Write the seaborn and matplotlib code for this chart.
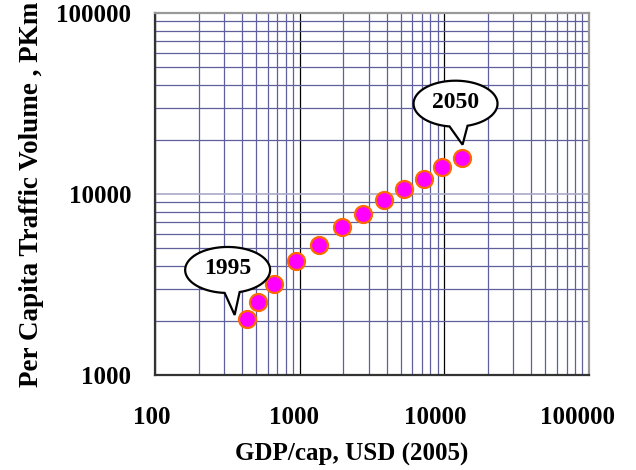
import numpy as np
import pandas as pd
import matplotlib
matplotlib.use("Agg")
import matplotlib.pyplot as plt
from matplotlib.path import Path
from matplotlib.patches import PathPatch
from matplotlib.transforms import Affine2D, ScaledTranslation
from matplotlib.ticker import LogLocator, NullFormatter, FixedLocator
import seaborn as sns

# Per-capita GDP vs. per-capita passenger traffic, 1995-2050 in 5-year steps
years = [1995, 2000, 2005, 2010, 2015, 2020, 2025, 2030, 2035, 2040, 2045, 2050]
gdp_per_cap = [430, 516, 669, 938, 1359, 1959, 2750, 3857, 5272, 7196, 9576, 13150]
traffic_pkm = [2040, 2520, 3170, 4250, 5230, 6570, 7780, 9230, 10660, 12100, 14040, 15870]

x_ticks = [100, 1000, 10000, 100000]
y_ticks = [1000, 10000, 100000]

df = pd.DataFrame({"year": years, "gdp": gdp_per_cap, "pkm": traffic_pkm})

sns.set_theme(style="white")
plt.rcParams["font.family"] = ["Liberation Serif", "DejaVu Serif"]
plt.rcParams["font.weight"] = "bold"
plt.rcParams["text.color"] = "black"
plt.rcParams["axes.labelcolor"] = "black"

fig = plt.figure(figsize=(6.36, 4.70), dpi=100)
ax = fig.add_axes([155 / 636, 95 / 470, 434 / 636, 362 / 470])

ax.set_xscale("log")
ax.set_yscale("log")
ax.set_xlim(x_ticks[0], x_ticks[-1])
ax.set_ylim(y_ticks[0], y_ticks[-1])

# Grid: minor lines in slate blue, major verticals black, major horizontals pale
ax.xaxis.set_minor_locator(LogLocator(base=10, subs=np.arange(2, 10)))
ax.yaxis.set_minor_locator(LogLocator(base=10, subs=np.arange(2, 10)))
ax.xaxis.set_minor_formatter(NullFormatter())
ax.yaxis.set_minor_formatter(NullFormatter())
ax.grid(True, which="minor", color="#5f5f9c", linewidth=0.9)
ax.grid(True, which="major", axis="x", color="black", linewidth=0.9)
ax.grid(True, which="major", axis="y", color="#a9a9c8", linewidth=1.2)
ax.set_axisbelow(True)

ax.xaxis.set_major_locator(FixedLocator(x_ticks))
ax.yaxis.set_major_locator(FixedLocator(y_ticks))
ax.set_xticks(x_ticks, [str(v) for v in x_ticks])
ax.set_yticks(y_ticks, [str(v) for v in y_ticks])
ax.tick_params(axis="both", which="major", direction="out", length=8, width=1,
               color="#555555", labelsize=18, labelcolor="black")
ax.tick_params(axis="x", which="major", pad=14)
ax.tick_params(axis="y", which="major", pad=9)
ax.tick_params(axis="both", which="minor", length=0)
for lab in ax.get_xticklabels():
    lab.set_fontweight("bold")
    # longer labels sit a little left of their tick
    shift = -3 * (len(lab.get_text()) - 2)
    lab.set_transform(lab.get_transform() + Affine2D().translate(shift, 0))
for lab in ax.get_yticklabels():
    lab.set_fontweight("bold")

for side in ["left", "bottom"]:
    ax.spines[side].set_color("#333333")
    ax.spines[side].set_linewidth(1.6)
for side in ["top", "right"]:
    ax.spines[side].set_color("#999999")
    ax.spines[side].set_linewidth(1.6)

sns.scatterplot(data=df, x="gdp", y="pkm", ax=ax, s=150, color="#ff00ff",
                edgecolor="#ff6a00", linewidth=1.6, zorder=5, legend=False)

ax.set_xlabel("GDP/cap, USD (2005)", fontsize=18, fontweight="bold")
ax.xaxis.set_label_coords(0.454, -0.188)
ax.set_ylabel("")
fig.text(32 / 636, 83 / 470, "Per Capita Traffic Volume , PKm", rotation=90,
         ha="center", va="bottom", fontsize=19.5, fontweight="bold")


def callout(x, y, label, center, size, tail_base, tip):
    """Speech bubble whose tail points at (x, y); geometry in pixel offsets."""
    cx, cy = center
    a, b = size[0] / 2, size[1] / 2
    t_right = -np.arccos(np.clip((tail_base[1] - cx) / a, -1, 1))
    t_left = -np.arccos(np.clip((tail_base[0] - cx) / a, -1, 1))
    # from the right tail base, counter-clockwise over the top, to the left base
    ts = np.linspace(t_right, t_left + 2 * np.pi, 80)
    verts = [(cx + a * np.cos(t), cy + b * np.sin(t)) for t in ts]
    verts.append(tip)
    verts.append(verts[0])
    codes = [Path.MOVETO] + [Path.LINETO] * (len(verts) - 2) + [Path.CLOSEPOLY]
    trans = Affine2D() + ScaledTranslation(x, y, ax.transData)
    ax.add_patch(PathPatch(Path(verts, codes), facecolor="white", edgecolor="black",
                           linewidth=1.6, joinstyle="miter", transform=trans,
                           zorder=6, clip_on=False))
    ax.text(cx, cy + 1, label, transform=trans, ha="center", va="center",
            fontsize=17, fontweight="bold", color="black", zorder=7)


callout(gdp_per_cap[0], traffic_pkm[0], str(years[0]),
        center=(-19, 49), size=(85, 46), tail_base=(-22, -7), tip=(-12, 4))
callout(gdp_per_cap[-1], traffic_pkm[-1], str(years[-1]),
        center=(-6, 54), size=(84, 46), tail_base=(-12, 6), tip=(1, 13))

fig.savefig("out.png", dpi=100)
